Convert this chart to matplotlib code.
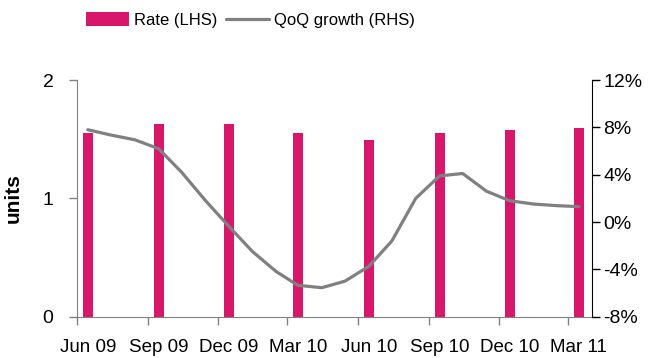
import matplotlib
matplotlib.use("Agg")
import matplotlib.pyplot as plt
from matplotlib.ticker import FuncFormatter
import pandas as pd

plt.rcParams['font.family'] = ['Liberation Sans', 'DejaVu Sans']

# quarterly rate (left axis)
bar_dates = ['2009-06-15', '2009-09-15', '2009-12-15', '2010-03-15',
             '2010-06-15', '2010-09-15', '2010-12-15', '2011-03-15']
bar_labels = ['Jun 09', 'Sep 09', 'Dec 09', 'Mar 10',
              'Jun 10', 'Sep 10', 'Dec 10', 'Mar 11']
rate = [1.555, 1.63, 1.63, 1.555, 1.49, 1.555, 1.58, 1.595]

# monthly QoQ growth in % (right axis), mid-month
growth_dates = pd.date_range('2009-06-01', periods=22, freq='MS') + pd.Timedelta(days=14)
growth = [7.8, 7.35, 6.95, 6.2, 4.2, 1.8, -0.35, -2.5, -4.2, -5.35, -5.55,
          -5.0, -3.75, -1.6, 2.0, 3.9, 4.1, 2.6, 1.8, 1.52, 1.38, 1.3]

pink = '#D9176A'
grey = '#808080'

fig = plt.figure(figsize=(6.51, 3.58), dpi=100)
ax = fig.add_axes([0.1183, 0.1154, 0.7911, 0.6611])
ax2 = ax.twinx()

bx = pd.to_datetime(bar_dates)
ax.bar(bx, rate, width=13, color=pink, label='Rate (LHS)', zorder=2)
ax2.plot(growth_dates, growth, color=grey, lw=2.3, label='QoQ growth (RHS)',
         solid_capstyle='round', solid_joinstyle='round', zorder=3)
ax2.set_zorder(ax.get_zorder() + 1)
ax2.patch.set_visible(False)

ax.set_xlim(pd.Timestamp('2009-06-01'), pd.Timestamp('2011-04-01'))
ax.set_ylim(0, 2)
ax.set_yticks([0, 1, 2])
ax2.set_ylim(-8, 12)
ax2.set_yticks(range(-8, 13, 4))
ax2.yaxis.set_major_formatter(FuncFormatter(lambda v, p: f'{v:.0f}%'))

# tick marks at quarter starts, labels under the bars
tick_dates = pd.to_datetime(['2009-06-01', '2009-09-01', '2009-12-01', '2010-03-01',
                             '2010-06-01', '2010-09-01', '2010-12-01', '2011-03-01'])
ax.set_xticks(tick_dates)
ax.set_xticklabels([])
ax.set_xticks(bx, minor=True)
ax.set_xticklabels(bar_labels, minor=True)
ax.tick_params(axis='x', which='major', length=6, width=1, color=grey, direction='out')
ax.tick_params(axis='x', which='minor', length=0, pad=16, labelsize=13.5)
ax.tick_params(axis='y', length=6, width=1, color=grey, pad=11, labelsize=14)
ax2.tick_params(axis='y', length=6, width=1, color='black', pad=2, labelsize=14)

for a in (ax, ax2):
    a.spines['top'].set_visible(False)
ax.spines['left'].set_color(grey)
ax.spines['bottom'].set_color(grey)
ax.spines['right'].set_visible(False)
ax2.spines['left'].set_visible(False)
ax2.spines['bottom'].set_visible(False)
ax2.spines['right'].set_color('black')

ax.set_ylabel('units', fontsize=15, fontweight='bold', labelpad=14)

h1, l1 = ax.get_legend_handles_labels()
h2, l2 = ax2.get_legend_handles_labels()
fig.legend(h1 + h2, l1 + l2, loc='center', bbox_to_anchor=(0.385, 0.944), ncol=2,
           frameon=False, fontsize=12, handlelength=2.6, handleheight=0.85,
           handletextpad=0.3, columnspacing=0.5)

fig.savefig('out.png', dpi=100)
